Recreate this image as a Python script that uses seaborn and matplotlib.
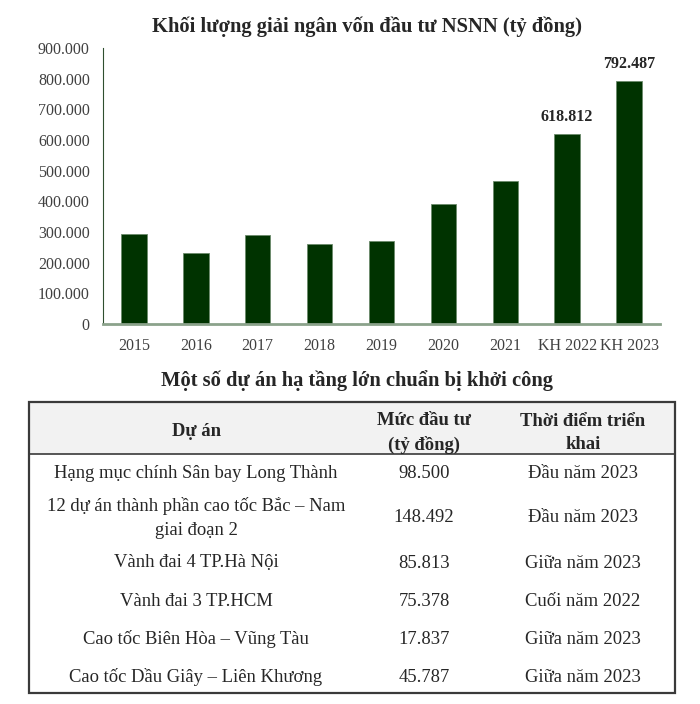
import matplotlib
matplotlib.use("Agg")
import matplotlib.pyplot as plt
import seaborn as sns
import pandas as pd
from matplotlib.patches import Rectangle

# dữ liệu biểu đồ
years = ["2015", "2016", "2017", "2018", "2019", "2020", "2021", "KH 2022", "KH 2023"]
disbursed = [294000, 233000, 291000, 261000, 270000, 392000, 466000, 618812, 792487]
labeled = {"KH 2022": "618.812", "KH 2023": "792.487"}
yticks = [0, 100000, 200000, 300000, 400000, 500000, 600000, 700000, 800000, 900000]
ytick_labels = ["0", "100.000", "200.000", "300.000", "400.000", "500.000",
                "600.000", "700.000", "800.000", "900.000"]

# dữ liệu bảng
header = ["Dự án", "Mức đầu tư\n(tỷ đồng)", "Thời điểm triển\nkhai"]
projects = ["Hạng mục chính Sân bay Long Thành",
            "12 dự án thành phần cao tốc Bắc – Nam\ngiai đoạn 2",
            "Vành đai 4 TP.Hà Nội",
            "Vành đai 3 TP.HCM",
            "Cao tốc Biên Hòa – Vũng Tàu",
            "Cao tốc Dầu Giây – Liên Khương"]
investment = ["98.500", "148.492", "85.813", "75.378", "17.837", "45.787"]
timing = ["Đầu năm 2023", "Đầu năm 2023", "Giữa năm 2023",
          "Cuối năm 2022", "Giữa năm 2023", "Giữa năm 2023"]

sns.set_style("white")
plt.rcParams['font.family'] = ['Liberation Serif', 'DejaVu Serif']

W, H = 700, 704
fig = plt.figure(figsize=(W / 100, H / 100), dpi=100)

# 1) biểu đồ cột
ax = fig.add_axes([103 / W, 1 - 324 / H, (660 - 103) / W, (324 - 48) / H])
df = pd.DataFrame({"year": years, "value": disbursed})
sns.barplot(data=df, x="year", y="value", color="#003300", width=0.41,
            edgecolor="#6b8a6b", linewidth=0.6, ax=ax, saturation=1)
ax.set_xlim(-0.5, 8.5)
ax.set_ylim(0, 900000)
ax.set_yticks(yticks)
ax.set_yticklabels(ytick_labels)
ax.set_xlabel("")
ax.set_ylabel("")
ax.tick_params(axis="both", length=0, labelsize=11.5, labelcolor="#404040")
ax.tick_params(axis="y", pad=9.5)
ax.tick_params(axis="x", pad=10)
for s in ["top", "right"]:
    ax.spines[s].set_visible(False)
ax.spines["left"].set_color("#2f4f2f")
ax.spines["left"].set_linewidth(0.8)
ax.spines["bottom"].set_color("#8ba28b")
ax.spines["bottom"].set_linewidth(2)
for i, y in enumerate(years):
    if y in labeled:
        ax.text(i, disbursed[i] + 30000, labeled[y], ha="center", va="bottom",
                fontsize=11.5, fontweight="bold", color="#262626")

fig.text(367 / W, 1 - 27 / H, "Khối lượng giải ngân vốn đầu tư NSNN (tỷ đồng)",
         ha="center", va="center", fontsize=14.8, fontweight="bold")

# 2) bảng
fig.text(357 / W, 1 - 381 / H, "Một số dự án hạ tầng lớn chuẩn bị khởi công",
         ha="center", va="center", fontsize=14.8, fontweight="bold")

tx = fig.add_axes([0, 0, 1, 1])
tx.set_xlim(0, W)
tx.set_ylim(H, 0)
tx.axis("off")

left, right, top, head_bot, bottom = 29, 675, 402, 454, 693
tx.add_patch(Rectangle((left, top), right - left, head_bot - top,
                       facecolor="#f2f2f2", edgecolor="none"))
tx.add_patch(Rectangle((left, top), right - left, bottom - top,
                       facecolor="none", edgecolor="#3a3a3a", linewidth=1.6))
tx.plot([left, right], [head_bot, head_bot], color="#3a3a3a", linewidth=1.2)

col_x = [196, 424, 583]
header_y = [432, 433, 433]
for x, y, h in zip(col_x, header_y, header):
    tx.text(x, y, h, ha="center", va="center", fontsize=13.4,
            fontweight="bold", linespacing=1.5)

row_y = [474, 518, 563, 601, 639, 677]
for y, p, v, t in zip(row_y, projects, investment, timing):
    tx.text(col_x[0], y, p, ha="center", va="center", fontsize=13.4, linespacing=1.5)
    tx.text(col_x[1], y, v, ha="center", va="center", fontsize=13.4)
    tx.text(col_x[2], y, t, ha="center", va="center", fontsize=13.4)

fig.savefig("out.png", dpi=100)
